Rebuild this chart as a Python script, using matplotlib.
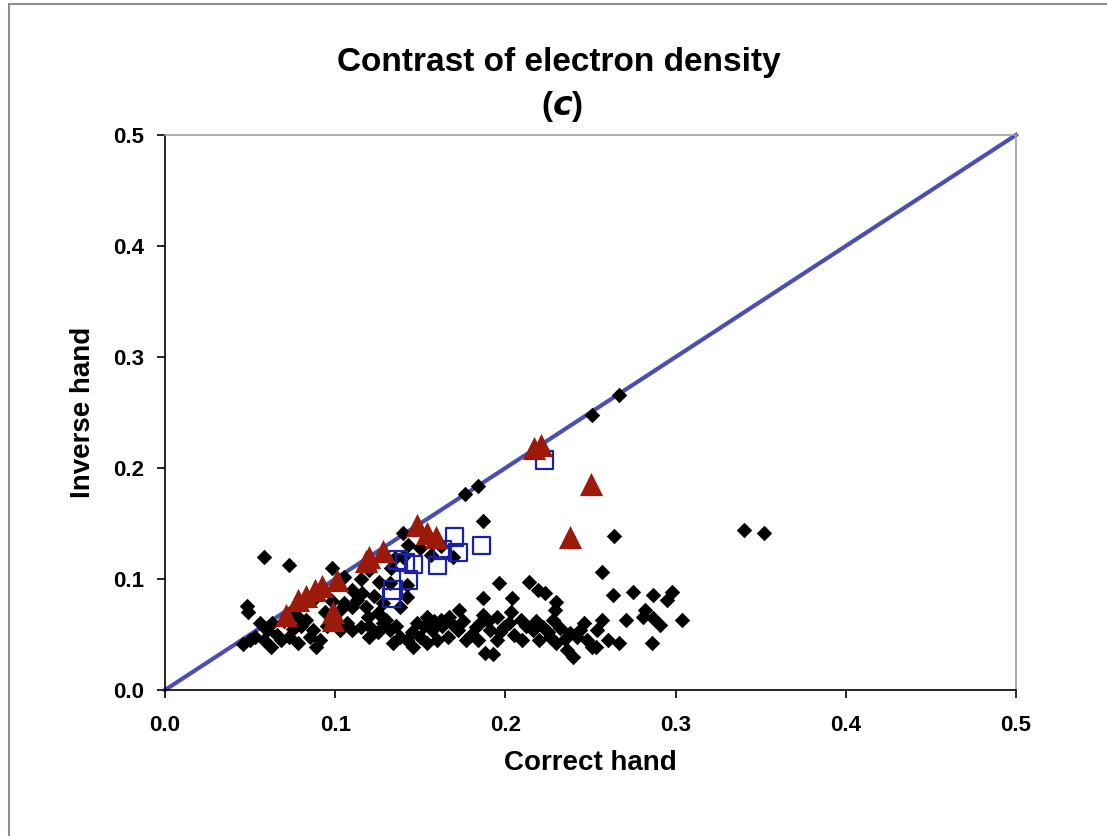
import matplotlib
matplotlib.use("Agg")
import matplotlib.pyplot as plt
from matplotlib.patches import Rectangle

plt.rcParams['font.family'] = ['Liberation Sans', 'DejaVu Sans']

# Black diamonds
diamond_x = [0.267, 0.251, 0.176, 0.184, 0.187, 0.140, 0.264, 0.257, 0.340, 0.352,
             0.058, 0.073, 0.048, 0.049,
             0.098, 0.105, 0.110, 0.056, 0.060, 0.053, 0.062, 0.068, 0.073, 0.050, 0.046,
             0.078, 0.083, 0.087, 0.091, 0.089, 0.085, 0.103, 0.107, 0.110, 0.103, 0.105,
             0.089, 0.093, 0.063, 0.075, 0.110,
             0.143, 0.135, 0.126, 0.132, 0.142, 0.116, 0.113, 0.119, 0.125, 0.128, 0.115,
             0.120, 0.132, 0.138, 0.134, 0.142, 0.146, 0.154, 0.148, 0.154, 0.162, 0.167,
             0.173, 0.157, 0.166, 0.172, 0.177, 0.160, 0.183, 0.142, 0.138, 0.169, 0.156,
             0.196, 0.187, 0.204, 0.214, 0.219, 0.223, 0.230, 0.229, 0.187, 0.195, 0.203,
             0.209, 0.191, 0.199, 0.184, 0.195, 0.188, 0.193, 0.210, 0.216, 0.222, 0.220,
             0.226, 0.228, 0.230, 0.236, 0.238, 0.244, 0.248, 0.240, 0.251, 0.246,
             0.263, 0.275, 0.287, 0.298, 0.295, 0.282, 0.287, 0.291, 0.304, 0.271, 0.257,
             0.254, 0.260, 0.267, 0.253, 0.286, 0.281,
             0.125, 0.130, 0.136, 0.145, 0.150, 0.152, 0.158, 0.163, 0.168, 0.175, 0.180,
             0.185, 0.190, 0.197, 0.202, 0.205, 0.212, 0.218, 0.225, 0.232, 0.235, 0.242,
             0.120, 0.118, 0.123, 0.128, 0.100, 0.095, 0.080, 0.070, 0.066, 0.058, 0.075,
             0.078, 0.094, 0.098, 0.115, 0.120, 0.133, 0.150, 0.162, 0.140]
diamond_y = [0.266, 0.248, 0.177, 0.184, 0.152, 0.141, 0.139, 0.106, 0.144, 0.141,
             0.120, 0.113, 0.076, 0.070,
             0.110, 0.102, 0.090, 0.060, 0.054, 0.048, 0.039, 0.045, 0.048, 0.045, 0.041,
             0.066, 0.063, 0.054, 0.045, 0.039, 0.048, 0.054, 0.060, 0.054, 0.072, 0.078,
             0.084, 0.090, 0.060, 0.072, 0.075,
             0.131, 0.119, 0.097, 0.096, 0.095, 0.087, 0.081, 0.066, 0.069, 0.060, 0.057,
             0.048, 0.054, 0.048, 0.042, 0.045, 0.039, 0.042, 0.060, 0.066, 0.063, 0.066,
             0.072, 0.054, 0.048, 0.054, 0.045, 0.045, 0.057, 0.084, 0.075, 0.120, 0.122,
             0.096, 0.083, 0.083, 0.097, 0.090, 0.087, 0.079, 0.072, 0.068, 0.066, 0.070,
             0.063, 0.054, 0.057, 0.045, 0.045, 0.033, 0.032, 0.045, 0.054, 0.057, 0.045,
             0.048, 0.063, 0.042, 0.036, 0.051, 0.054, 0.045, 0.030, 0.039, 0.060,
             0.086, 0.088, 0.086, 0.088, 0.081, 0.072, 0.065, 0.059, 0.063, 0.063, 0.063,
             0.054, 0.045, 0.042, 0.039, 0.042, 0.066,
             0.052, 0.063, 0.058, 0.052, 0.048, 0.058, 0.062, 0.058, 0.060, 0.062, 0.050,
             0.060, 0.062, 0.052, 0.060, 0.050, 0.058, 0.062, 0.052, 0.056, 0.046, 0.048,
             0.058, 0.075, 0.085, 0.078, 0.062, 0.058, 0.058, 0.062, 0.050, 0.045, 0.055,
             0.042, 0.070, 0.080, 0.100, 0.108, 0.110, 0.128, 0.130, 0.120]

# Red triangles
tri_x = [0.071, 0.078, 0.083, 0.088, 0.092, 0.099, 0.099, 0.101, 0.118, 0.120, 0.128,
         0.148, 0.154, 0.159, 0.217, 0.221, 0.250, 0.238]
tri_y = [0.068, 0.081, 0.085, 0.090, 0.094, 0.063, 0.070, 0.099, 0.116, 0.120, 0.125,
         0.149, 0.141, 0.138, 0.218, 0.221, 0.186, 0.138]

# Blue open squares
sq_x = [0.133, 0.134, 0.137, 0.141, 0.146, 0.143, 0.160, 0.163, 0.170, 0.172, 0.186, 0.223]
sq_y = [0.083, 0.090, 0.117, 0.115, 0.113, 0.099, 0.112, 0.126, 0.138, 0.124, 0.130, 0.207]

diag = [0.0, 0.5]

fig = plt.figure(figsize=(11.07, 8.36), dpi=100)
fig.patches.append(Rectangle((9/1107, -0.01), 1.05, 1 - 4/836 + 0.01,
                             transform=fig.transFigure, fill=False,
                             edgecolor='#8c8c8c', linewidth=1.5))
ax = fig.add_axes([165/1107, 1 - 690/836, (1016 - 165)/1107, (690 - 135)/836])

ax.plot(diag, diag, color='#4b4fb3', linewidth=3, zorder=1, clip_on=False)
ax.scatter(diamond_x, diamond_y, marker='D', s=62, color='black', linewidths=0, zorder=2)
ax.scatter(sq_x, sq_y, marker='s', s=160, facecolors='none', edgecolors='#1a22a8',
           linewidths=1.6, zorder=3)
ax.scatter(tri_x, tri_y, marker='^', s=280, color='#9b1a0a', linewidths=0, zorder=4)

ax.set_xlim(0, 0.5)
ax.set_ylim(0, 0.5)
ticks = [0.0, 0.1, 0.2, 0.3, 0.4, 0.5]
ax.set_xticks(ticks)
ax.set_yticks(ticks)
ax.set_xticklabels([f"{t:.1f}" for t in ticks], fontsize=16, fontweight='bold')
ax.set_yticklabels([f"{t:.1f}" for t in ticks], fontsize=16, fontweight='bold')
ax.tick_params(axis='both', direction='out', length=6, width=1.2, color='black')
ax.tick_params(axis='x', pad=12)
ax.tick_params(axis='y', pad=9)
for s in ['left', 'bottom']:
    ax.spines[s].set_color('black')
    ax.spines[s].set_linewidth(1.2)
for s in ['top', 'right']:
    ax.spines[s].set_color('#a0a0a0')
    ax.spines[s].set_linewidth(1.2)

ax.set_xlabel("Correct hand", fontsize=20, fontweight='bold', labelpad=10)
ax.set_ylabel("Inverse hand", fontsize=20, fontweight='bold', labelpad=12)

cx = 559 / 1107
fig.text(cx, 1 - 62/836, "Contrast of electron density",
         ha='center', va='center', fontsize=24, fontweight='bold')
fig.text(cx - 0.006, 1 - 107/836, "(", ha='right', va='center',
         fontsize=24, fontweight='bold')
fig.text(cx - 0.006, 1 - 107/836, "$\\mathbfit{c}$)", ha='left', va='center',
         fontsize=24, fontweight='bold')

fig.savefig("out.png", dpi=100)
